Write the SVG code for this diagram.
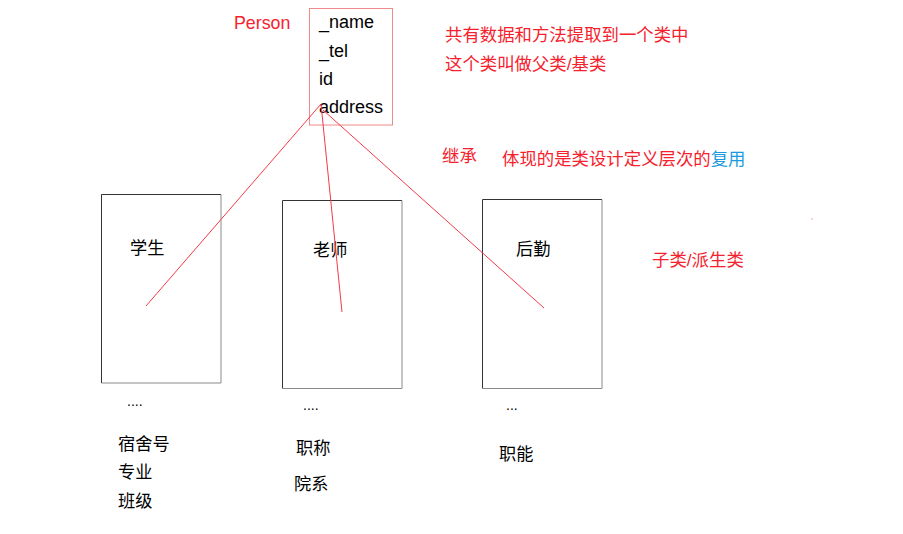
<svg xmlns="http://www.w3.org/2000/svg" width="903" height="534" viewBox="0 0 903 534">
<style>
text{font-family:"Liberation Sans","Noto Sans CJK SC",sans-serif;}
.lat{font-size:18px;fill:#000;}
.cn{font-size:17.2px;fill:#000;}
.red{font-size:17.4px;fill:#f5222d;}
.blue{fill:#1a9be0;}
.dots{font-size:14px;fill:#000;}
.bx{fill:#fff;stroke:#333;stroke-width:1;}
.bxl{fill:none;stroke:#8a8a8a;stroke-width:1;}
.conn{stroke:#f23a48;stroke-width:1;fill:none;}
</style>
<rect x="0" y="0" width="903" height="534" fill="#fff"/>
<g id="person">
  <rect x="309.5" y="8.5" width="83" height="116.5" fill="#fff" stroke="#f08a8a" stroke-width="1"/>
  <text x="234" y="29" class="red" style="font-size:17.8px">Person</text>
  <text x="319" y="28.3" class="lat">_name</text>
  <text x="319" y="56.7" class="lat">_tel</text>
  <text x="319" y="85" class="lat">id</text>
  <text x="319" y="113.3" class="lat">address</text>
</g>
<g id="student">
  <path d="M101.5,383 V194.5 H221" class="bx"/>
  <path d="M221,194.5 V383 H101.5" class="bxl"/>
  <text x="130" y="254" class="cn">学生</text>
  <text x="127" y="406" class="dots">....</text>
  <text x="118" y="450" class="cn">宿舍号</text>
  <text x="118" y="478" class="cn">专业</text>
  <text x="118" y="507" class="cn">班级</text>
</g>
<g id="teacher">
  <path d="M282.5,388.5 V200.5 H402" class="bx"/>
  <path d="M402,200.5 V388.5 H282.5" class="bxl"/>
  <text x="313" y="256" class="cn">老师</text>
  <text x="303" y="410" class="dots">....</text>
  <text x="296" y="454" class="cn">职称</text>
  <text x="294" y="490" class="cn">院系</text>
</g>
<g id="logistics">
  <path d="M482.5,388.5 V199.5 H602" class="bx"/>
  <path d="M602,199.5 V388.5 H482.5" class="bxl"/>
  <text x="516" y="255" class="cn">后勤</text>
  <text x="506" y="410" class="dots">...</text>
  <text x="499" y="460" class="cn">职能</text>
</g>
<g id="notes">
  <text x="445" y="41" class="red">共有数据和方法提取到一个类中</text>
  <text x="445" y="70" class="red">这个类叫做父类/基类</text>
  <text x="442" y="162" class="red">继承</text>
  <text x="502" y="165" class="red">体现的是类设计定义层次的<tspan class="blue">复用</tspan></text>
  <text x="652" y="266" class="red">子类/派生类</text>
  <circle cx="812" cy="219" r="0.7" fill="#e88"/>
</g>
<g id="connectors">
  <line x1="321" y1="104" x2="146" y2="306" class="conn"/>
  <line x1="321" y1="104" x2="342" y2="312" class="conn"/>
  <line x1="323" y1="110" x2="544" y2="308" class="conn"/>
</g>
</svg>
